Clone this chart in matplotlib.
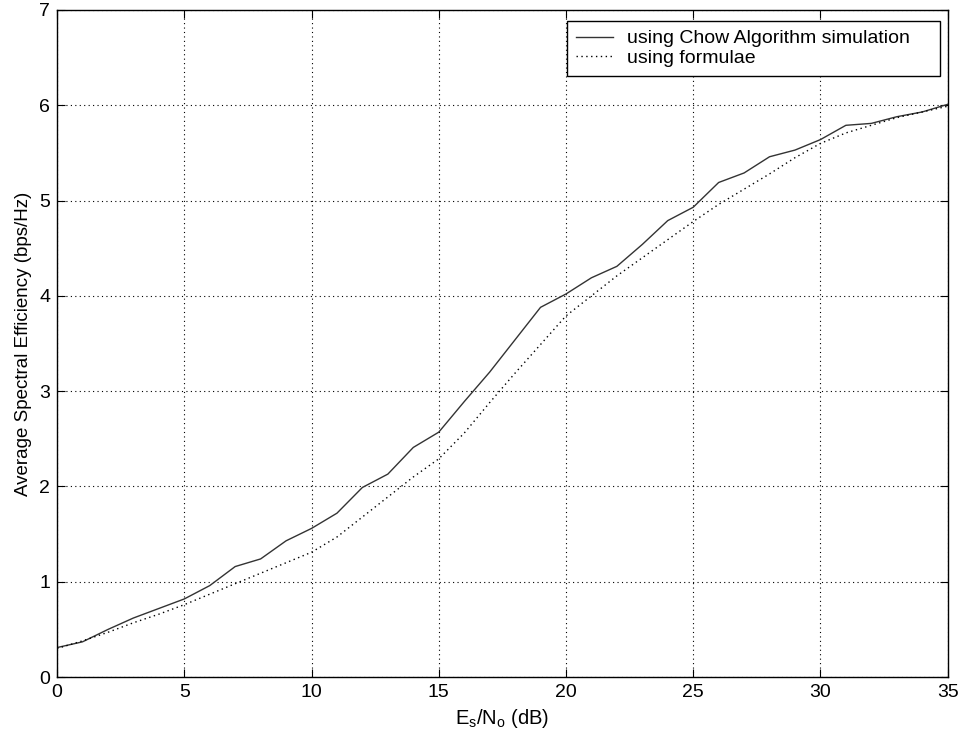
import matplotlib
matplotlib.use("Agg")
import matplotlib.pyplot as plt

plt.rcParams['font.family'] = ['Liberation Sans', 'DejaVu Sans']

snr_db = list(range(0, 36))
chow_sim = [0.31, 0.37, 0.50, 0.62, 0.72, 0.82, 0.96, 1.16, 1.24, 1.43, 1.56, 1.72,
            1.99, 2.13, 2.41, 2.57, 2.89, 3.20, 3.54, 3.88, 4.02, 4.19, 4.31, 4.54,
            4.79, 4.93, 5.19, 5.29, 5.46, 5.53, 5.64, 5.79, 5.81, 5.88, 5.93, 6.01]
formula = [0.30, 0.38, 0.47, 0.57, 0.66, 0.76, 0.87, 0.98, 1.09, 1.20, 1.31, 1.47,
           1.68, 1.89, 2.10, 2.29, 2.56, 2.88, 3.19, 3.49, 3.79, 4.00, 4.21, 4.40,
           4.59, 4.78, 4.96, 5.12, 5.28, 5.45, 5.60, 5.71, 5.79, 5.87, 5.93, 5.99]
x_ticks = [0, 5, 10, 15, 20, 25, 30, 35]
y_ticks = [0, 1, 2, 3, 4, 5, 6, 7]

fig = plt.figure(figsize=(9.67, 7.40), dpi=100)
ax = fig.add_axes([0.059, 0.085, 0.921, 0.9015])

ax.plot(snr_db, chow_sim, color='#333333', linestyle='-', linewidth=1.0,
        label='using Chow Algorithm simulation    ')
ax.plot(snr_db, formula, color='black', linestyle=(0, (1, 2.5)), linewidth=1.0,
        label='using formulae')

ax.set_xlim(0, 35)
ax.set_ylim(0, 7)
ax.set_xticks(x_ticks)
ax.set_yticks(y_ticks)
ax.tick_params(direction='in', top=True, right=True, labelsize=14, length=6, pad=5)
ax.grid(True, color='black', linestyle=(0, (1, 3)), linewidth=0.8)
for s in ax.spines.values():
    s.set_linewidth(1.0)

ax.set_xlabel(r'E$_\mathregular{s}$/N$_\mathregular{o}$ (dB)', fontsize=14.5, labelpad=4)
ax.set_ylabel('Average Spectral Efficiency (bps/Hz)', fontsize=13.5, labelpad=5)

leg = ax.legend(loc='upper right', bbox_to_anchor=(0.991, 0.9835), borderaxespad=0,
                fontsize=14, frameon=True, fancybox=False,
                edgecolor='black', framealpha=1,
                handlelength=1.9, handletextpad=0.7, borderpad=0.45, labelspacing=0.1)
leg.get_frame().set_linewidth(1.0)

fig.savefig('out.png', dpi=100)
